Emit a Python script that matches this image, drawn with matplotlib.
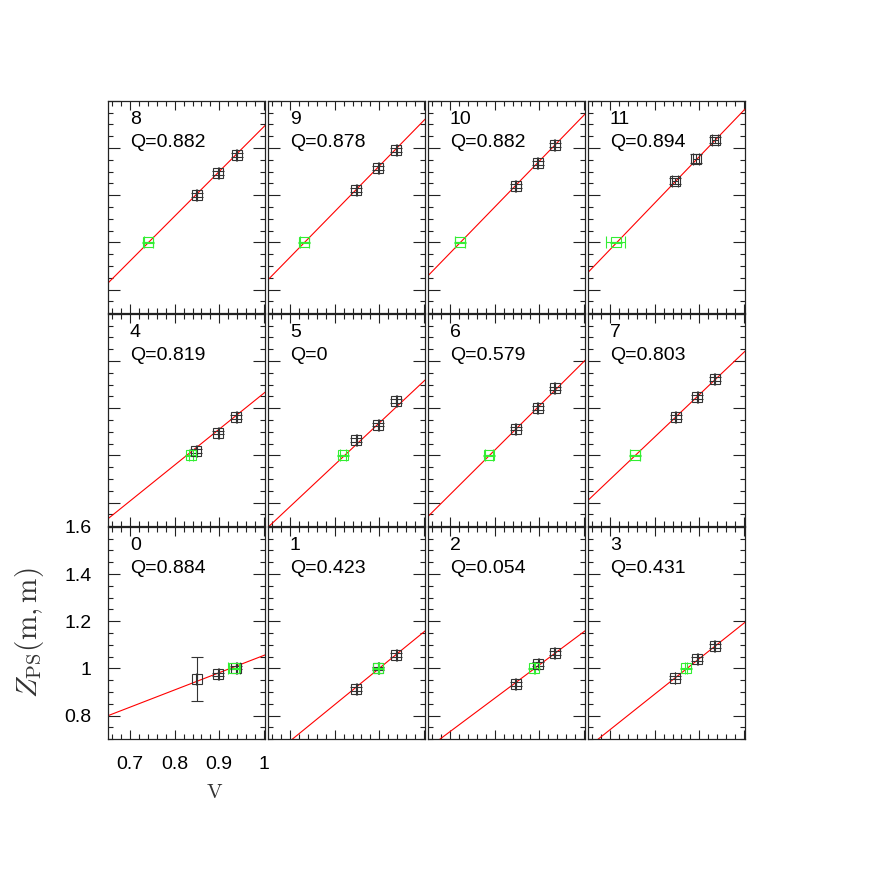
import numpy as np
import matplotlib
matplotlib.use("Agg")
import matplotlib.pyplot as plt
from matplotlib.ticker import FixedLocator, FixedFormatter, MultipleLocator

plt.rcParams['font.family'] = ['Liberation Sans', 'DejaVu Sans']
plt.rcParams['mathtext.fontset'] = 'cm'

# panel data, panels 0..11 (0-3 bottom row, 4-7 middle, 8-11 top)
q_values = ['0.884', '0.423', '0.054', '0.431',
            '0.819', '0', '0.579', '0.803',
            '0.882', '0.878', '0.882', '0.894']

black_v = [[0.849, 0.898, 0.938], [0.848, 0.898, 0.938], [0.847, 0.898, 0.935], [0.8455, 0.8956, 0.935],
           [0.848, 0.898, 0.938], [0.848, 0.898, 0.938], [0.847, 0.8965, 0.9354], [0.847, 0.8956, 0.9354],
           [0.849, 0.898, 0.939], [0.848, 0.898, 0.938], [0.847, 0.8965, 0.9354], [0.8455, 0.893, 0.9354]]
black_z = [[0.955, 0.976, 1.004], [0.9135, 1.0, 1.058], [0.935, 1.018, 1.065], [0.9615, 1.041, 1.096],
           [1.019, 1.097, 1.163], [1.067, 1.131, 1.231], [1.114, 1.201, 1.284], [1.163, 1.248, 1.323],
           [1.202, 1.293, 1.372], [1.223, 1.316, 1.393], [1.238, 1.336, 1.414], [1.259, 1.355, 1.435]]
black_zerr = [[0.093, 0.006, 0.006]] + [[0.008, 0.008, 0.008]] * 10 + [[0.012, 0.02, 0.012]]
black_verr = [[0.001, 0.001, 0.001]] * 11 + [[0.006, 0.007, 0.006]]

green_v = [0.934, 0.898, 0.889, 0.870, 0.8365, 0.819, 0.788, 0.7556, 0.7406, 0.7316, 0.722, 0.712]
green_z = [1.001, 1.001, 1.0, 1.0, 1.0, 1.0, 1.0, 1.0, 1.0, 1.0, 1.0, 1.0]
green_verr = [0.0135, 0.001, 0.001, 0.003, 0.004, 0.006, 0.009, 0.011, 0.0105, 0.0105, 0.0105, 0.021]
green_zerr = [0.002] * 12

# fitted line: Z at V=0.65 and at V=1.0
fit_lo = [0.80, 0.6165, 0.663, 0.6665, 0.732, 0.696, 0.7416, 0.81, 0.828, 0.842, 0.859, 0.873]
fit_hi = [1.055, 1.154, 1.155, 1.191, 1.263, 1.314, 1.397, 1.436, 1.4895, 1.516, 1.538, 1.559]

x_ticks = [0.7, 0.8, 0.9, 1.0]
x_labels = ['0.7', '0.8', '0.9', '1']
y_ticks = [0.8, 1.0, 1.2, 1.4, 1.6]
y_labels = ['0.8', '1', '1.2', '1.4', '1.6']

W = 872.0
fig = plt.figure(figsize=(8.72, 8.72), dpi=100)
fig.patch.set_facecolor('white')

frame = '#222222'
for i in range(12):
    row, col = i // 4, i % 4
    left = (108 + 160 * col) / W
    bottom = (132.7 + 213 * row) / W
    ax = fig.add_axes([left, bottom, 157 / W, 212.5 / W])
    ax.set_xlim(0.65, 1.003)
    ax.set_ylim(0.7, 1.6)

    ax.axline((0.65, fit_lo[i]), (1.0, fit_hi[i]), color='red', lw=0.8)
    ax.errorbar(black_v[i], black_z[i], yerr=black_zerr[i], xerr=black_verr[i],
                fmt='s', ms=7.2, mfc='none', mec='#333333', mew=0.8,
                ecolor='#333333', elinewidth=0.8, capsize=4.5, capthick=0.8)
    ax.errorbar([green_v[i]], [green_z[i]], yerr=[green_zerr[i]], xerr=[green_verr[i]],
                fmt='s', ms=7.2, mfc='none', mec='#33ee33', mew=0.8,
                ecolor='#33ee33', elinewidth=0.8, capsize=4.5, capthick=0.8)

    ax.text(0.14, 0.913, str(i), transform=ax.transAxes, fontsize=14,
            ha='left', va='center')
    ax.text(0.14, 0.805, 'Q=' + q_values[i], transform=ax.transAxes, fontsize=14,
            ha='left', va='center')

    ax.xaxis.set_major_locator(FixedLocator(x_ticks))
    ax.xaxis.set_minor_locator(MultipleLocator(0.02))
    ax.yaxis.set_major_locator(FixedLocator(y_ticks))
    ax.yaxis.set_minor_locator(MultipleLocator(0.05))
    ax.tick_params(which='both', direction='in', top=True, right=True,
                   color=frame, width=0.8, labelbottom=False, labelleft=False)
    ax.tick_params(axis='y', which='major', length=8.5)
    ax.tick_params(axis='x', which='major', length=6.5)
    ax.tick_params(which='minor', length=3.6)
    for s in ax.spines.values():
        s.set_color(frame)
        s.set_linewidth(0.9)

    if i == 0:
        ax.xaxis.set_major_formatter(FixedFormatter(x_labels))
        ax.yaxis.set_major_formatter(FixedFormatter(y_labels))
        ax.tick_params(which='major', labelbottom=True, labelleft=True,
                       labelsize=14, pad=12)

fig.text(30 / W, 1 - 633 / W, r'$Z_{\mathrm{PS}}(\mathrm{m,m})$', rotation=90,
         ha='center', va='center', fontsize=21, color='#333333')
fig.text(215 / W, 1 - 792 / W, r'$\mathrm{V}$', ha='center', va='center',
         fontsize=15, color='#333333')

fig.savefig('out.png', dpi=100, facecolor='white')
